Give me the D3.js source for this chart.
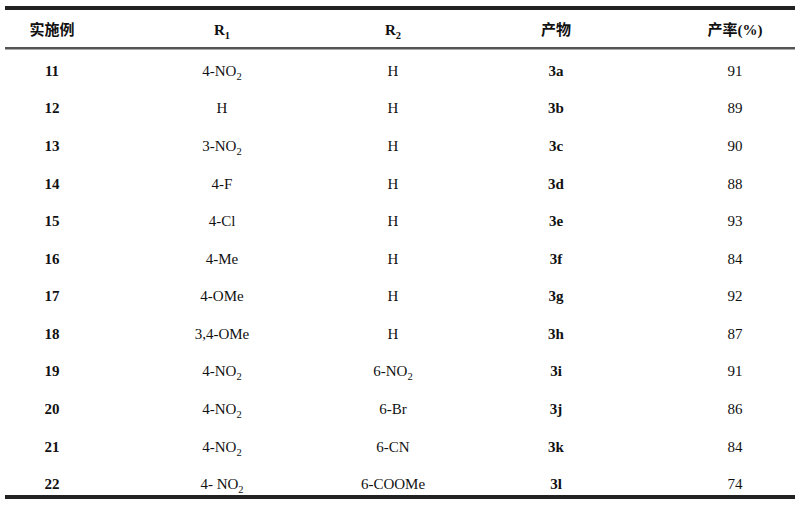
<!DOCTYPE html>
<html><head><meta charset="utf-8">
<script src="https://cdn.jsdelivr.net/npm/d3@7"></script>
<style>body{margin:0;background:#fff}</style>
</head><body>
<svg id="t" width="800" height="507"></svg>
<script>
const headers = ["实施例", "R1", "R2", "产物", "产率(%)"]
const examples = ["11","12","13","14","15","16","17","18","19","20","21","22"]
const r1 = ["4-NO2","H","3-NO2","4-F","4-Cl","4-Me","4-OMe","3,4-OMe","4-NO2","4-NO2","4-NO2","4- NO2"]
const r2 = ["H","H","H","H","H","H","H","H","6-NO2","6-Br","6-CN","6-COOMe"]
const products = ["3a","3b","3c","3d","3e","3f","3g","3h","3i","3j","3k","3l"]
const yields = [91,89,90,88,93,84,92,87,91,86,84,74]

const svg = d3.select("#t")
const font = "'Liberation Serif', 'Noto Sans CJK SC', serif"
const cols = [52, 222, 393, 556, 735]
const y = d3.scaleBand().domain(examples).range([52, 503])

// rules
svg.append("rect").attr("x", 5).attr("y", 6).attr("width", 790).attr("height", 4).attr("fill", "#222")
svg.append("rect").attr("x", 5).attr("y", 47).attr("width", 790).attr("height", 2.5).attr("fill", "#555")
svg.append("rect").attr("x", 5).attr("y", 495).attr("width", 790).attr("height", 4).attr("fill", "#222")

// write text with subscript digits for chemical formulas / R labels
function chem(sel, s) {
  const parts = s.match(/(\d+|[^\d]+)/g)
  parts.forEach(function(p, i) {
    const prev = i > 0 ? parts[i - 1] : ""
    const sub = /^\d+$/.test(p) && /[A-Z]$/.test(prev)
    sel.append("tspan").text(p)
      .attr("font-size", sub ? "0.7em" : null)
      .attr("dy", sub ? 4 : (i > 0 && /^\d+$/.test(prev) && /[A-Z]$/.test(parts[i - 2] || "") ? -4 : null))
  })
}

const g = svg.append("g").attr("font-family", font).attr("text-anchor", "middle").attr("fill", "#111")

headers.forEach(function(h, i) {
  const t = g.append("text").attr("x", cols[i]).attr("y", 35).attr("font-size", 15).attr("font-weight", "bold")
  chem(t, h)
})

examples.forEach(function(e, i) {
  const cy = y(e) + y.bandwidth() / 2 + 5
  const row = [e, r1[i], r2[i], products[i], String(yields[i])]
  row.forEach(function(v, j) {
    const t = g.append("text").attr("x", cols[j]).attr("y", cy).attr("font-size", 15)
      .attr("font-weight", (j == 0 || j == 3) ? "bold" : "normal")
    chem(t, v)
  })
})
</script>
</body></html>
